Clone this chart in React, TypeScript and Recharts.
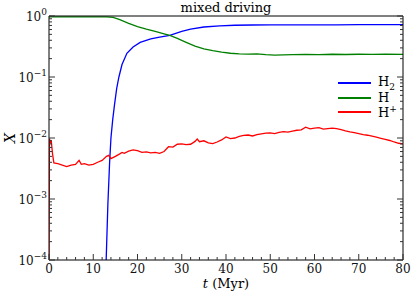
import { LineChart, Line, XAxis, YAxis } from 'recharts'

// time (Myr) and abundance samples
const tH2 = [12.9, 13.3, 13.7, 14.0, 14.4, 14.8, 15.3, 15.8, 16.5, 17.6, 19, 20.6, 23, 25, 27.3, 30, 32, 35, 38.6, 42, 46, 50, 55, 60, 65, 70, 75, 80]
const xH2 = [0.00009, 0.0008, 0.004, 0.01, 0.02, 0.035, 0.065, 0.1, 0.16, 0.245, 0.31, 0.37, 0.42, 0.45, 0.48, 0.56, 0.61, 0.66, 0.69, 0.705, 0.712, 0.715, 0.716, 0.718, 0.718, 0.72, 0.72, 0.72]

const tH = [0, 5, 10, 13, 14.5, 16, 18, 20, 22, 24, 26, 27.3, 29, 31, 33, 35, 37, 39, 41, 43, 45, 47, 49, 51, 53, 55, 58, 61, 64, 67, 70, 73, 76, 80]
const xH = [0.97, 0.97, 0.97, 0.97, 0.95, 0.87, 0.76, 0.67, 0.61, 0.56, 0.51, 0.48, 0.43, 0.37, 0.32, 0.29, 0.27, 0.255, 0.245, 0.24, 0.237, 0.24, 0.232, 0.228, 0.23, 0.232, 0.235, 0.233, 0.236, 0.234, 0.236, 0.235, 0.236, 0.235]

const tHp = [0, 0.1, 0.3, 0.5, 0.8, 1.1, 2, 3, 4, 5, 6, 6.8, 7.3, 8, 9, 10, 11, 12, 13, 13.5, 14, 15, 16, 16.5, 17, 18, 19, 20, 21, 22, 23, 24, 25, 26, 27, 28, 29, 30, 31, 32, 33, 33.5, 34, 35, 36, 37, 38, 39, 40, 41, 42, 43, 44, 45, 46, 47, 48, 49, 50, 51, 52, 53, 54, 55, 56, 57, 58, 59, 60, 61, 62, 63, 64, 65, 66, 67, 68, 69, 70, 71, 72, 73, 74, 75, 76, 77, 78, 79, 80]
const xHp = [0.0001, 0.0098, 0.0085, 0.0092, 0.0055, 0.0039, 0.0038, 0.0036, 0.0034, 0.0036, 0.0037, 0.0043, 0.0037, 0.0038, 0.0036, 0.0037, 0.004, 0.0043, 0.005, 0.0052, 0.0046, 0.005, 0.0055, 0.0058, 0.0056, 0.0061, 0.0064, 0.0062, 0.0058, 0.0059, 0.0057, 0.0058, 0.0056, 0.006, 0.0072, 0.0071, 0.0079, 0.008, 0.0078, 0.0079, 0.0088, 0.0096, 0.0087, 0.009, 0.0083, 0.0081, 0.0086, 0.0093, 0.0104, 0.0098, 0.01, 0.0106, 0.011, 0.0112, 0.0108, 0.0114, 0.0117, 0.012, 0.0121, 0.0118, 0.0124, 0.0127, 0.0125, 0.013, 0.0134, 0.0136, 0.015, 0.0141, 0.0145, 0.0148, 0.014, 0.0143, 0.0145, 0.0142, 0.0137, 0.0131, 0.0126, 0.0122, 0.0118, 0.0114, 0.0111, 0.0107, 0.0103, 0.0099, 0.0095, 0.0091, 0.0086, 0.0082, 0.008]

const xTicks = Array.from({ length: 41 }, (_, i) => i * 2)
const decades = [-4, -3, -2, -1, 0]
const yTicks = decades.flatMap((d) => (d === 0 ? [1] : [1, 2, 3, 4, 5, 6, 7, 8, 9].map((m) => m * Math.pow(10, d))))

const zip = (t: number[], v: number[]) => t.map((x, i) => ({ t: x, v: v[i] }))

const series = [
  { name: 'H2', color: '#0000ff', data: zip(tH2, xH2) },
  { name: 'H', color: '#008000', data: zip(tH, xH) },
  { name: 'H+', color: '#ff0000', data: zip(tHp, xHp) },
]

const font = '"DejaVu Serif", serif'
const isDecade = (v: number) => Math.abs(Math.log10(v) - Math.round(Math.log10(v))) < 1e-6

const BottomTick = ({ x, y, payload }: any) => {
  const major = payload.value % 10 === 0
  return (
    <g>
      <line x1={x} x2={x} y1={y} y2={y - (major ? 6 : 3)} stroke="#333" />
      {major && (
        <text x={x} y={y + 13} textAnchor="middle" fontSize={12} fontFamily={font} fill="#111">
          {payload.value}
        </text>
      )}
    </g>
  )
}

const TopTick = ({ x, y, payload }: any) => {
  const major = payload.value % 10 === 0
  return <line x1={x} x2={x} y1={y} y2={y + (major ? 6 : 3)} stroke="#333" />
}

const LeftTick = ({ x, y, payload }: any) => {
  const major = isDecade(payload.value)
  const exp = Math.round(Math.log10(payload.value))
  return (
    <g>
      <line x1={x} x2={x + (major ? 6 : 3)} y1={y} y2={y} stroke="#333" />
      {major && (
        <text x={x - 2} y={y + 5} textAnchor="end" fontSize={12} fontFamily={font} fill="#111">
          10
          <tspan dy={-6} fontSize={9}>{exp === 0 ? '0' : `\u2212${-exp}`}</tspan>
        </text>
      )}
    </g>
  )
}

const RightTick = ({ x, y, payload }: any) => {
  const major = isDecade(payload.value)
  return <line x1={x} x2={x - (major ? 6 : 3)} y1={y} y2={y} stroke="#333" />
}

const legend = [
  { label: 'H', sub: '2', sup: '', color: '#0000ff' },
  { label: 'H', sub: '', sup: '', color: '#008000' },
  { label: 'H', sub: '', sup: '+', color: '#ff0000' },
]

export default function App() {
  return (
    <div style={{ position: 'relative', width: 415, height: 294, fontFamily: font }}>
      <style>{'body{margin:0}'}</style>
      <LineChart width={415} height={294} margin={{ top: 0, right: 0, bottom: 0, left: 0 }}>
        <XAxis
          xAxisId="b"
          dataKey="t"
          type="number"
          domain={[0, 80]}
          ticks={xTicks}
          interval={0}
          height={34}
          tickSize={0}
          tickMargin={0}
          tickLine={false}
          tick={<BottomTick />}
          stroke="#000"
          allowDataOverflow
        />
        <XAxis
          xAxisId="t"
          orientation="top"
          dataKey="t"
          type="number"
          domain={[0, 80]}
          ticks={xTicks}
          interval={0}
          height={16}
          tickSize={0}
          tickMargin={0}
          tickLine={false}
          tick={<TopTick />}
          stroke="#000"
        />
        <YAxis
          yAxisId="l"
          scale="log"
          type="number"
          domain={[1e-4, 1]}
          ticks={yTicks}
          interval={0}
          width={49}
          tickSize={0}
          tickMargin={0}
          tickLine={false}
          tick={<LeftTick />}
          stroke="#000"
          allowDataOverflow
        />
        <YAxis
          yAxisId="r"
          orientation="right"
          scale="log"
          type="number"
          domain={[1e-4, 1]}
          ticks={yTicks}
          interval={0}
          width={12}
          tickSize={0}
          tickMargin={0}
          tickLine={false}
          tick={<RightTick />}
          stroke="#000"
          allowDataOverflow
        />
        {series.map((s) => (
          <Line
            key={s.name}
            xAxisId="b"
            yAxisId="l"
            data={s.data}
            dataKey="v"
            type="linear"
            stroke={s.color}
            strokeWidth={1.3}
            dot={false}
            isAnimationActive={false}
          />
        ))}
      </LineChart>
      <div style={{ position: 'absolute', left: 0, top: 1, width: 452, textAlign: 'center', fontSize: 13, lineHeight: '13px' }}>
        mixed driving
      </div>
      <div style={{ position: 'absolute', left: 0, width: 452, top: 277, textAlign: 'center', fontSize: 13, lineHeight: '13px' }}>
        <i>t</i> (Myr)
      </div>
      <div
        style={{
          position: 'absolute',
          left: 10,
          top: 138,
          transform: 'translate(-50%, -50%) rotate(-90deg)',
          fontSize: 14,
          fontStyle: 'italic',
        }}
      >
        X
      </div>
      <div style={{ position: 'absolute', left: 338, top: 76, fontSize: 13 }}>
        {legend.map((l, i) => (
          <div key={i} style={{ display: 'flex', alignItems: 'center', height: 14.5 }}>
            <span style={{ display: 'inline-block', width: 33, height: 2, background: l.color, marginRight: 7 }} />
            <span>
              {l.label}
              {l.sub && <sub style={{ fontSize: 9 }}>{l.sub}</sub>}
              {l.sup && <sup style={{ fontSize: 9 }}>{l.sup}</sup>}
            </span>
          </div>
        ))}
      </div>
    </div>
  )
}
